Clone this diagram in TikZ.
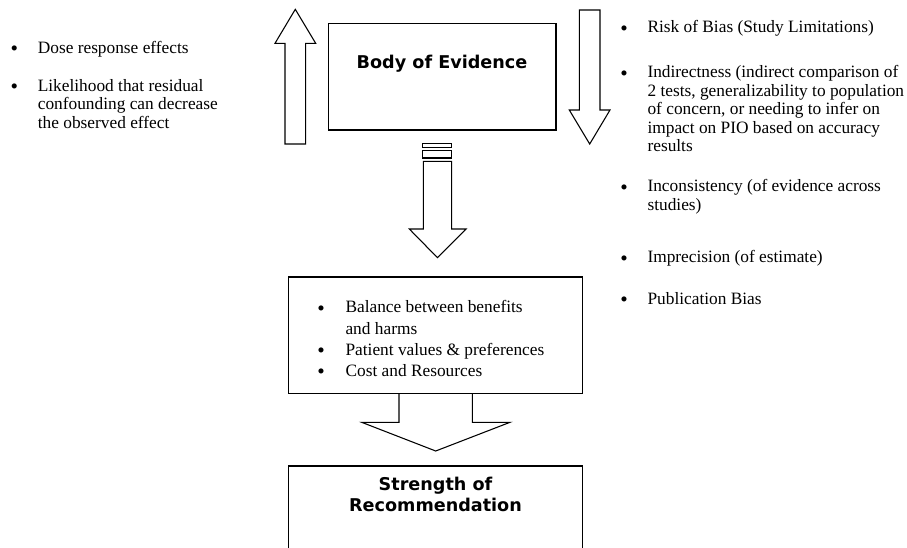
\documentclass[tikz,border=0pt]{standalone}
\usepackage{fontspec}
\setmainfont{Liberation Serif}
\newfontfamily\verdfont{DejaVu Sans}
\usetikzlibrary{fit}
\newcommand\mylinesl[1]{\begin{tabular}[t]{@{}l@{}}#1\end{tabular}}
\newcommand\mylinesc[1]{\begin{tabular}[t]{@{}c@{}}#1\end{tabular}}
\begin{document}
\begin{tikzpicture}[x=0.75pt,y=-0.75pt, line width=0.8pt,
  txt/.style={anchor=base west, inner sep=0, font=\fontsize{13}{13.95}\selectfont},
  midtxt/.style={anchor=base west, inner sep=0, font=\fontsize{13}{16}\selectfont},
  bul/.style={anchor=base, inner sep=0, yshift=-1.9pt, font=\fontsize{16}{16}\selectfont},
  ttl/.style={anchor=base, inner sep=0, font=\verdfont\bfseries\fontsize{13.2}{15.75}\selectfont},
  boxed/.style={draw, inner sep=0pt},
  blockarrow/.style={draw, line join=miter}]
\useasboundingbox (0,0) rectangle (907,547);
\clip (0,0) rectangle (907,547);

% boxes
\node[boxed, fit={(328.3,23.3) (556,130)}] (body) {};
\node[boxed, fit={(288.3,277) (582.7,393.3)}] (mid) {};
\node[boxed, fit={(288.3,466) (582.7,580)}] (str) {};

% titles
\node[ttl] (bodyt) at (442,68.5) {Body of Evidence};
\node[ttl] (strt) at (435.5,490) {\mylinesc{Strength of\\Recommendation}};

% side arrows
\draw[blockarrow] (285,144) -- (285,43.3) -- (275,43.3) -- (295.3,9.3) -- (315.7,43.3) -- (305.7,43.3) -- (305.7,144) -- cycle;
\draw[blockarrow] (579.3,10) -- (579.3,110) -- (569.3,110) -- (589.7,144) -- (610,110) -- (600,110) -- (600,10) -- cycle;

% striped arrow body -> mid
\draw[blockarrow] (422.7,143.3) rectangle (451.7,147.3);
\draw[blockarrow] (422.7,150.7) rectangle (451.7,158);
\draw[blockarrow] (423.3,161.3) -- (423.3,229) -- (409.3,229) -- (437.5,257.7) -- (466,229) -- (451.7,229) -- (451.7,161.3) -- cycle;

% wide arrow mid -> str
\draw[blockarrow] (399,393.3) -- (399,422.3) -- (361.7,422.3) -- (435.7,451) -- (510,422.3) -- (472.3,422.3) -- (472.3,393.3);

% left list
\node[bul] (lb1) at (14.3,53) {•};
\node[txt] (lt1) at (37.3,53) {Dose response effects};
\node[bul] (lb2) at (14.3,91) {•};
\node[txt] (lt2) at (37.3,91) {\mylinesl{Likelihood that residual\\confounding can decrease\\the observed effect}};

% right list
\node[bul] (rb1) at (624,32.5) {•};
\node[txt] (rt1) at (647,32.5) {Risk of Bias (Study Limitations)};
\node[bul] (rb2) at (624,77.5) {•};
\node[txt] (rt2) at (647,77.5) {\mylinesl{Indirectness (indirect comparison of\\2 tests, generalizability to population\\of concern, or needing to infer on\\impact on PIO based on accuracy\\results}};
\node[bul] (rb3) at (624,191.5) {•};
\node[txt] (rt3) at (647,191.5) {\mylinesl{Inconsistency (of evidence across\\studies)}};
\node[bul] (rb4) at (624,262.5) {•};
\node[txt] (rt4) at (647,262.5) {Imprecision (of estimate)};
\node[bul] (rb5) at (624,304) {•};
\node[txt] (rt5) at (647,304) {Publication Bias};

% middle list
\node[bul] (mb1) at (321,312.8) {•};
\node[midtxt] (mt1) at (345,312.8) {\mylinesl{Balance between benefits\\and harms}};
\node[bul] (mb2) at (321,355.2) {•};
\node[midtxt] (mt2) at (345,355.2) {Patient values \& preferences};
\node[bul] (mb3) at (321,376.2) {•};
\node[midtxt] (mt3) at (345,376.2) {Cost and Resources};
\end{tikzpicture}
\end{document}
